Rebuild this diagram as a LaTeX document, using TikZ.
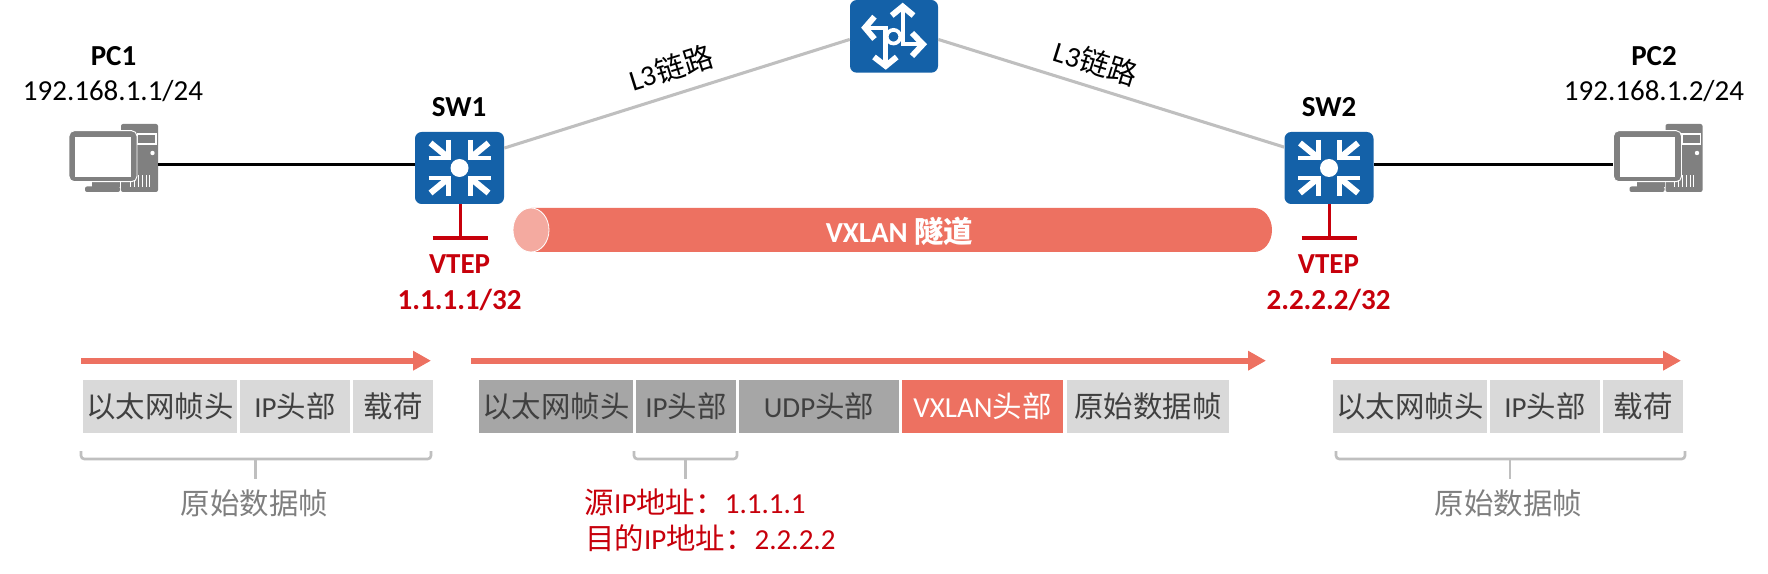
\documentclass[tikz,border=0pt]{standalone}
\usepackage{graphicx}
\usepackage{fontspec}
\setmainfont{Carlito}
\newfontfamily\cjk[Scale=1.015]{Noto Sans CJK SC}
\usetikzlibrary{arrows.meta}
\definecolor{hblue}{HTML}{1461A8}
\definecolor{hred}{HTML}{C7000B}
\definecolor{salmon}{HTML}{ED7161}
\definecolor{salmonl}{HTML}{F4AAA0}
\definecolor{linkgray}{HTML}{BFBFBF}
\definecolor{boxl}{HTML}{D9D9D9}
\definecolor{boxd}{HTML}{A6A6A6}
\definecolor{txt}{HTML}{404040}
\definecolor{pcgray}{HTML}{808080}
\definecolor{caption}{HTML}{7F7F7F}
\newcommand\cj[1]{{\cjk #1}}
\tikzset{
  lat/.style={inner sep=0pt,text height=14pt,text depth=0pt,font=\fontsize{21.75}{26}\selectfont},
  mix/.style={inner sep=0pt,text height=16.4pt,text depth=0pt,font=\fontsize{21.75}{26}\selectfont},
  swbox/.style={fill=hblue,rounded corners=5pt,minimum width=66.75pt,minimum height=54pt,inner sep=0pt},
  rtbox/.style={fill=hblue,rounded corners=5pt,minimum width=66pt,minimum height=54.5pt,inner sep=0pt},
  pcbox/.style={minimum width=66.75pt,minimum height=51pt,inner sep=0pt},
  link/.style={draw=linkgray,line width=2.3pt},
  access/.style={draw=black,line width=2.6pt},
  vtep/.style={draw=hred,line width=2.6pt},
  flow/.style={draw=salmon,line width=4.8pt,-{Triangle[length=13.5pt,width=14pt]}},
  databox/.style={mix,minimum height=39.7pt,text=txt},
  brace/.style={draw=linkgray,line width=2pt,rounded corners=2.5pt},
  glyph/.style={draw=white,line width=4pt},
}
% frame field box: name, x1, x2, fill, text
\newcommand\fbx[6][txt]{\node[databox,text=#1,fill=#5,minimum width={(#4-#3)*.75pt}] (#2) at ({(#3+#4)/2},406.4) {#6};}
\newcommand\swglyph[1]{%
  \begin{scope}[shift={(#1)}]
    \fill[white] (0,0) circle[radius=9];
    \foreach \sx/\sy in {1/1,-1/1,1/-1,-1/-1}{
      \begin{scope}[xscale=\sx,yscale=\sy]
        \draw[glyph,line width=3.6pt] (-31,-10) -- (-8.5,-10);
        \draw[glyph,line width=3.6pt] (-10.7,-28) -- (-10.7,-7.8);
        \draw[glyph,line width=4.6pt] (-29,-25) -- (-12,-11);
      \end{scope}
    }
  \end{scope}}
\newcommand\pcicon[1]{%
  \begin{scope}[shift={(#1,0)}]
    \fill[pcgray,rounded corners=1.5pt] (121,124) rectangle (158,192);
    \draw[white,line width=.8pt] (137.5,134) rectangle (156,144);
    \fill[white] (152.5,153) circle[radius=2.2];
    \foreach \vx in {130,134,138,142,146,149}{\draw[white,line width=.7pt] (\vx,175) -- (\vx,187);}
    \fill[pcgray] (92,181) rectangle (120,187);
    \fill[pcgray,rounded corners=1.5pt] (85,186.5) rectangle (120,192);
    \filldraw[fill=pcgray,draw=white,line width=.7pt,rounded corners=4pt] (69,130.7) rectangle (137,181.7);
    \fill[white] (75,136.7) rectangle (130.5,176.7);
  \end{scope}}
\begin{document}
\begin{tikzpicture}[x=.75pt,y=-.75pt]
\useasboundingbox (0,0) rectangle (1768,574);
\coordinate (accessy) at (0,164.5);
% devices
\node[swbox] (sw1) at (459.5,168) {};
\node[swbox] (sw2) at (1329,168) {};
\node[rtbox] (rt) at (894,36.35) {};
\node[pcbox] (pc1) at (113.5,158) {};
\node[pcbox] (pc2) at (1658,158) {};
\pcicon{0}
\pcicon{1544.5}
\swglyph{459.5,168}
\swglyph{1329,168}
% router glyph
\draw[glyph,line width=3.4pt] (866,28) -- (885.7,28) -- (885.7,65);
\draw[glyph,line width=3.4pt] (903,8) -- (903,44) -- (922,44);
\draw[glyph,line width=4.4pt,miter limit=3] (874.5,16.7) -- (865,27.7) -- (874.5,39);
\draw[glyph,line width=4.4pt,miter limit=3] (874,57) -- (885.7,66) -- (896.7,57);
\draw[glyph,line width=4.4pt,miter limit=3] (891.7,15.5) -- (902.7,6.5) -- (913.5,15.5);
\draw[glyph,line width=4.4pt,miter limit=3] (912,33) -- (923,44.3) -- (912,56);
\filldraw[fill=hblue,draw=white,line width=2.8pt] (893.5,36.7) circle[radius=6.8];
% connectors
\draw[link] (sw1.24.2) -- (rt.184.7);
\draw[link] (rt.-4.3) -- (sw2.155.8);
\draw[access] (pc1.east |- accessy) -- (sw1.west |- accessy);
\draw[access] (sw2.east |- accessy) -- (pc2.west |- accessy);
% labels
\node[lat,font=\fontsize{21.75}{26}\selectfont\bfseries] (pc1t) at (113.5,56) {PC1};
\node[lat] (pc1ip) at (113,91) {192.168.1.1/24};
\node[lat,font=\fontsize{21.75}{26}\selectfont\bfseries] (pc2t) at (1654,56) {PC2};
\node[lat] (pc2ip) at (1654,91) {192.168.1.2/24};
\node[lat,font=\fontsize{21.75}{26}\selectfont\bfseries] (sw1t) at (459,107) {SW1};
\node[lat,font=\fontsize{21.75}{26}\selectfont\bfseries] (sw2t) at (1329,107) {SW2};
\node[mix,rotate=17.4] (l3a) at (671,68) {L3\cj{链路}};
\node[mix,rotate=-17.4] (l3b) at (1095.6,63) {L3\cj{链路}};
% VTEP marks
\coordinate (v1) at (460.5,238);
\coordinate (v1l) at (432.5,238);
\coordinate (v1r) at (488,238);
\coordinate (v2) at (1329.3,238);
\coordinate (v2l) at (1301.7,238);
\coordinate (v2r) at (1356.7,238);
\draw[vtep] (sw1.south -| v1) -- (v1);
\draw[vtep] (v1l) -- (v1r);
\draw[vtep] (sw2.south -| v2) -- (v2);
\draw[vtep] (v2l) -- (v2r);
\node[lat,text=hred,font=\fontsize{21.75}{26}\selectfont\bfseries] (vt1) at (459.6,264) {VTEP};
\node[lat,text=hred,font=\fontsize{21.75}{26}\selectfont\bfseries] (vt1ip) at (459.6,300) {1.1.1.1/32};
\node[lat,text=hred,font=\fontsize{21.75}{26}\selectfont\bfseries] (vt2) at (1328.5,264) {VTEP};
\node[lat,text=hred,font=\fontsize{21.75}{26}\selectfont\bfseries] (vt2ip) at (1328.5,300) {2.2.2.2/32};
% tunnel
\fill[salmon] (531,208) -- (1254,208) arc[start angle=-90,end angle=90,x radius=18,y radius=22] -- (531,252) -- cycle;
\filldraw[fill=salmonl,draw=white,line width=.6pt] (531,230) ellipse[x radius=18,y radius=22];
\node[mix,text=white,font=\fontsize{21.75}{26}\selectfont\bfseries] (tun) at (899.5,231.7) {VXLAN \cj{隧道}};
% flow arrows
\coordinate (f1a) at (81,360.7); \coordinate (f1b) at (431,360.7);
\coordinate (f2a) at (471,360.7); \coordinate (f2b) at (1266,360.7);
\coordinate (f3a) at (1331,360.7); \coordinate (f3b) at (1681,360.7);
\draw[flow] (f1a) -- (f1b);
\draw[flow] (f2a) -- (f2b);
\draw[flow] (f3a) -- (f3b);
% frames
\fbx{a1}{83}{237}{boxl}{\cj{以太网帧头}}
\fbx{a2}{240}{350}{boxl}{IP\cj{头部}}
\fbx{a3}{353}{433}{boxl}{\cj{载荷}}
\fbx{b1}{479}{633}{boxd}{\cj{以太网帧头}}
\fbx{b2}{636}{736}{boxd}{IP\cj{头部}}
\fbx{b3}{739}{899}{boxd}{UDP\cj{头部}}
\fbx[white]{b4}{902}{1063}{salmon}{VXLAN\cj{头部}}
\fbx{b5}{1067}{1229}{boxl}{\cj{原始数据帧}}
\fbx{c1}{1333}{1487}{boxl}{\cj{以太网帧头}}
\fbx{c2}{1490}{1600}{boxl}{IP\cj{头部}}
\fbx{c3}{1603}{1683}{boxl}{\cj{载荷}}
% braces
\draw[brace] (81,451) -- (81,459) -- (431,459) -- (431,451);
\draw[brace] (255.4,459) -- (255.4,479);
\draw[brace] (634,451) -- (634,459) -- (737,459) -- (737,451);
\draw[brace] (685.5,459) -- (685.5,479);
\draw[brace] (1336,451) -- (1336,459) -- (1685,459) -- (1685,451);
\draw[brace] (1510,459) -- (1510,479);
% captions
\node[mix,text=caption] (capa) at (254.5,504) {\cj{原始数据帧}};
\node[mix,text=caption] (capc) at (1508.5,504) {\cj{原始数据帧}};
\node[mix,text=hred,anchor=west] (src) at (584.5,503) {\cj{源}IP\cj{地址：}1.1.1.1};
\node[mix,text=hred,anchor=west] (dst) at (585,538.5) {\cj{目的}IP\cj{地址：}2.2.2.2};
\end{tikzpicture}
\end{document}
